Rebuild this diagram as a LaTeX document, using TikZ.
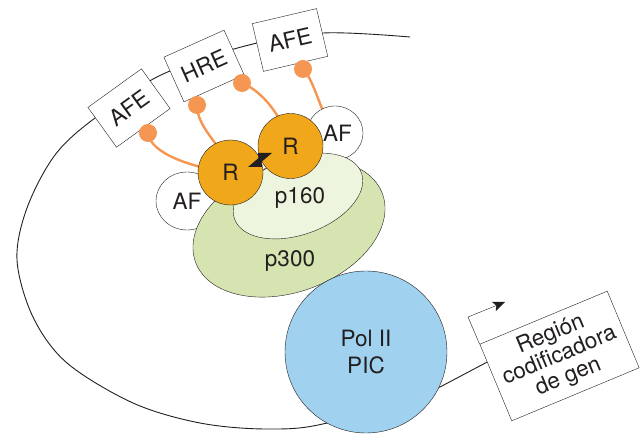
\documentclass[tikz,border=0pt]{standalone}
\usepackage{fontspec}
\setmainfont{TeX Gyre Heros}
\usetikzlibrary{shapes.geometric,arrows.meta,calc}
\pgfdeclarelayer{back}
\pgfdeclarelayer{mid}
\pgfsetlayers{back,mid,main}
\definecolor{rorange}{RGB}{240,167,26}
\definecolor{pin}{RGB}{245,150,82}
\definecolor{pone}{RGB}{238,245,222}
\definecolor{ptwo}{RGB}{213,228,176}
\definecolor{polblue}{RGB}{160,210,240}
\definecolor{ink}{RGB}{35,31,32}
\begin{document}
\begin{tikzpicture}[x=1pt,y=-1pt,line width=0.9pt,
  txt/.style={font=\fontsize{22.5}{25}\selectfont,text=ink},
  elbox/.style={txt,draw=ink,fill=white,minimum width=66pt,minimum height=49pt,inner sep=0pt},
  pinball/.style={circle,fill=pin,minimum size=18pt,inner sep=0pt},
  pinline/.style={draw=pin,line width=2.4pt},
  rcirc/.style={txt,circle,draw=ink,fill=rorange,minimum size=65pt,inner sep=0pt},
  afell/.style={txt,ellipse,draw=ink,fill=white,inner sep=0pt},
  blob/.style={ellipse,draw=ink,inner sep=0pt,rotate=20},
  dna/.style={draw=ink,line width=0.9pt}]
\useasboundingbox (0,0) rectangle (640,435);

\begin{pgfonlayer}{back}
  \node[txt,draw=ink,fill=white,minimum width=138pt,minimum height=83pt,inner sep=0pt,
        rotate=22.6,align=center,font=\fontsize{22.5}{23}\selectfont] (reg) at (559.5,356)
        {Región\\codificadora\\de gen};
  \draw[dna] plot[smooth,tension=0.55] coordinates {(410,37) (323,33) (245,46) (161,75)
      (95,118) (55,155) (27,208) (17,260) (33,317) (67,363) (133,403) (200,423)
      (267,429) (327,423) (440,387)}
      -- ($(reg.north west)!0.234!(reg.south west)$);
  \node[elbox,rotate=35.8] (afe1) at (129,108) {AFE};
  \node[elbox,rotate=24.2] (hre) at (204,66) {HRE};
  \node[elbox,rotate=13.2] (afe2) at (290,40) {AFE};
\end{pgfonlayer}

% pins
\node[pinball] (d1) at (148,133) {};
\node[pinball] (d2) at (197,105) {};
\node[pinball] (d3) at (242,83) {};
\node[pinball] (d4) at (303,69) {};

% activation factors and coactivators
\node[afell,minimum width=62pt,minimum height=58pt] (afl) at (187,201) {AF};
\node[afell,minimum width=56pt,minimum height=54pt] (afr) at (335,133) {\hspace*{5pt}AF};
\node[blob,fill=ptwo,minimum width=199pt,minimum height=128pt] (p300) at (289,228) {};
\node[blob,fill=pone,minimum width=135pt,minimum height=77pt] (p160) at (298,196) {};
\node[txt] (p160t) at (300,198) {p160};
\node[txt] (p300t) at (290,261) {p300};

% receptors
\node[rcirc] (r1) at (230.5,172.5) {R};
\node[rcirc] (r2) at (290.5,146) {R};
\fill[ink] (248,167) -- (261,156) -- (262,167) -- cycle;
\fill[ink] (272,153) -- (258,153) -- (259,164) -- cycle;

% pin lines
\begin{pgfonlayer}{mid}
  \draw[pinline] (d1.center) .. controls +(2,20) and +(-40,-5) .. (r1.center);
  \draw[pinline] (d2.center) .. controls +(0,25) and +(-5,-25) .. (r1.center);
  \draw[pinline] (d3.center) .. controls +(20,8) and +(-8,-30) .. (r2.center);
  \draw[pinline] (d4.center) .. controls +(12,12) and +(-15,-20) .. (afr.center);
\end{pgfonlayer}

% polymerase
\node[txt,circle,draw=ink,fill=polblue,minimum size=162pt,inner sep=0pt,align=center,
      font=\fontsize{22.5}{27}\selectfont] (pol) at (366,352) {Pol II\\PIC};

% transcription start arrow
\coordinate (tss) at (468,317);
\coordinate (tsstip) at (505,302);
\draw[ink,-{Stealth[length=12pt,width=10pt,inset=2.5pt]}] (reg.north west) -- (tss) -- (tsstip);
\end{tikzpicture}
\end{document}
